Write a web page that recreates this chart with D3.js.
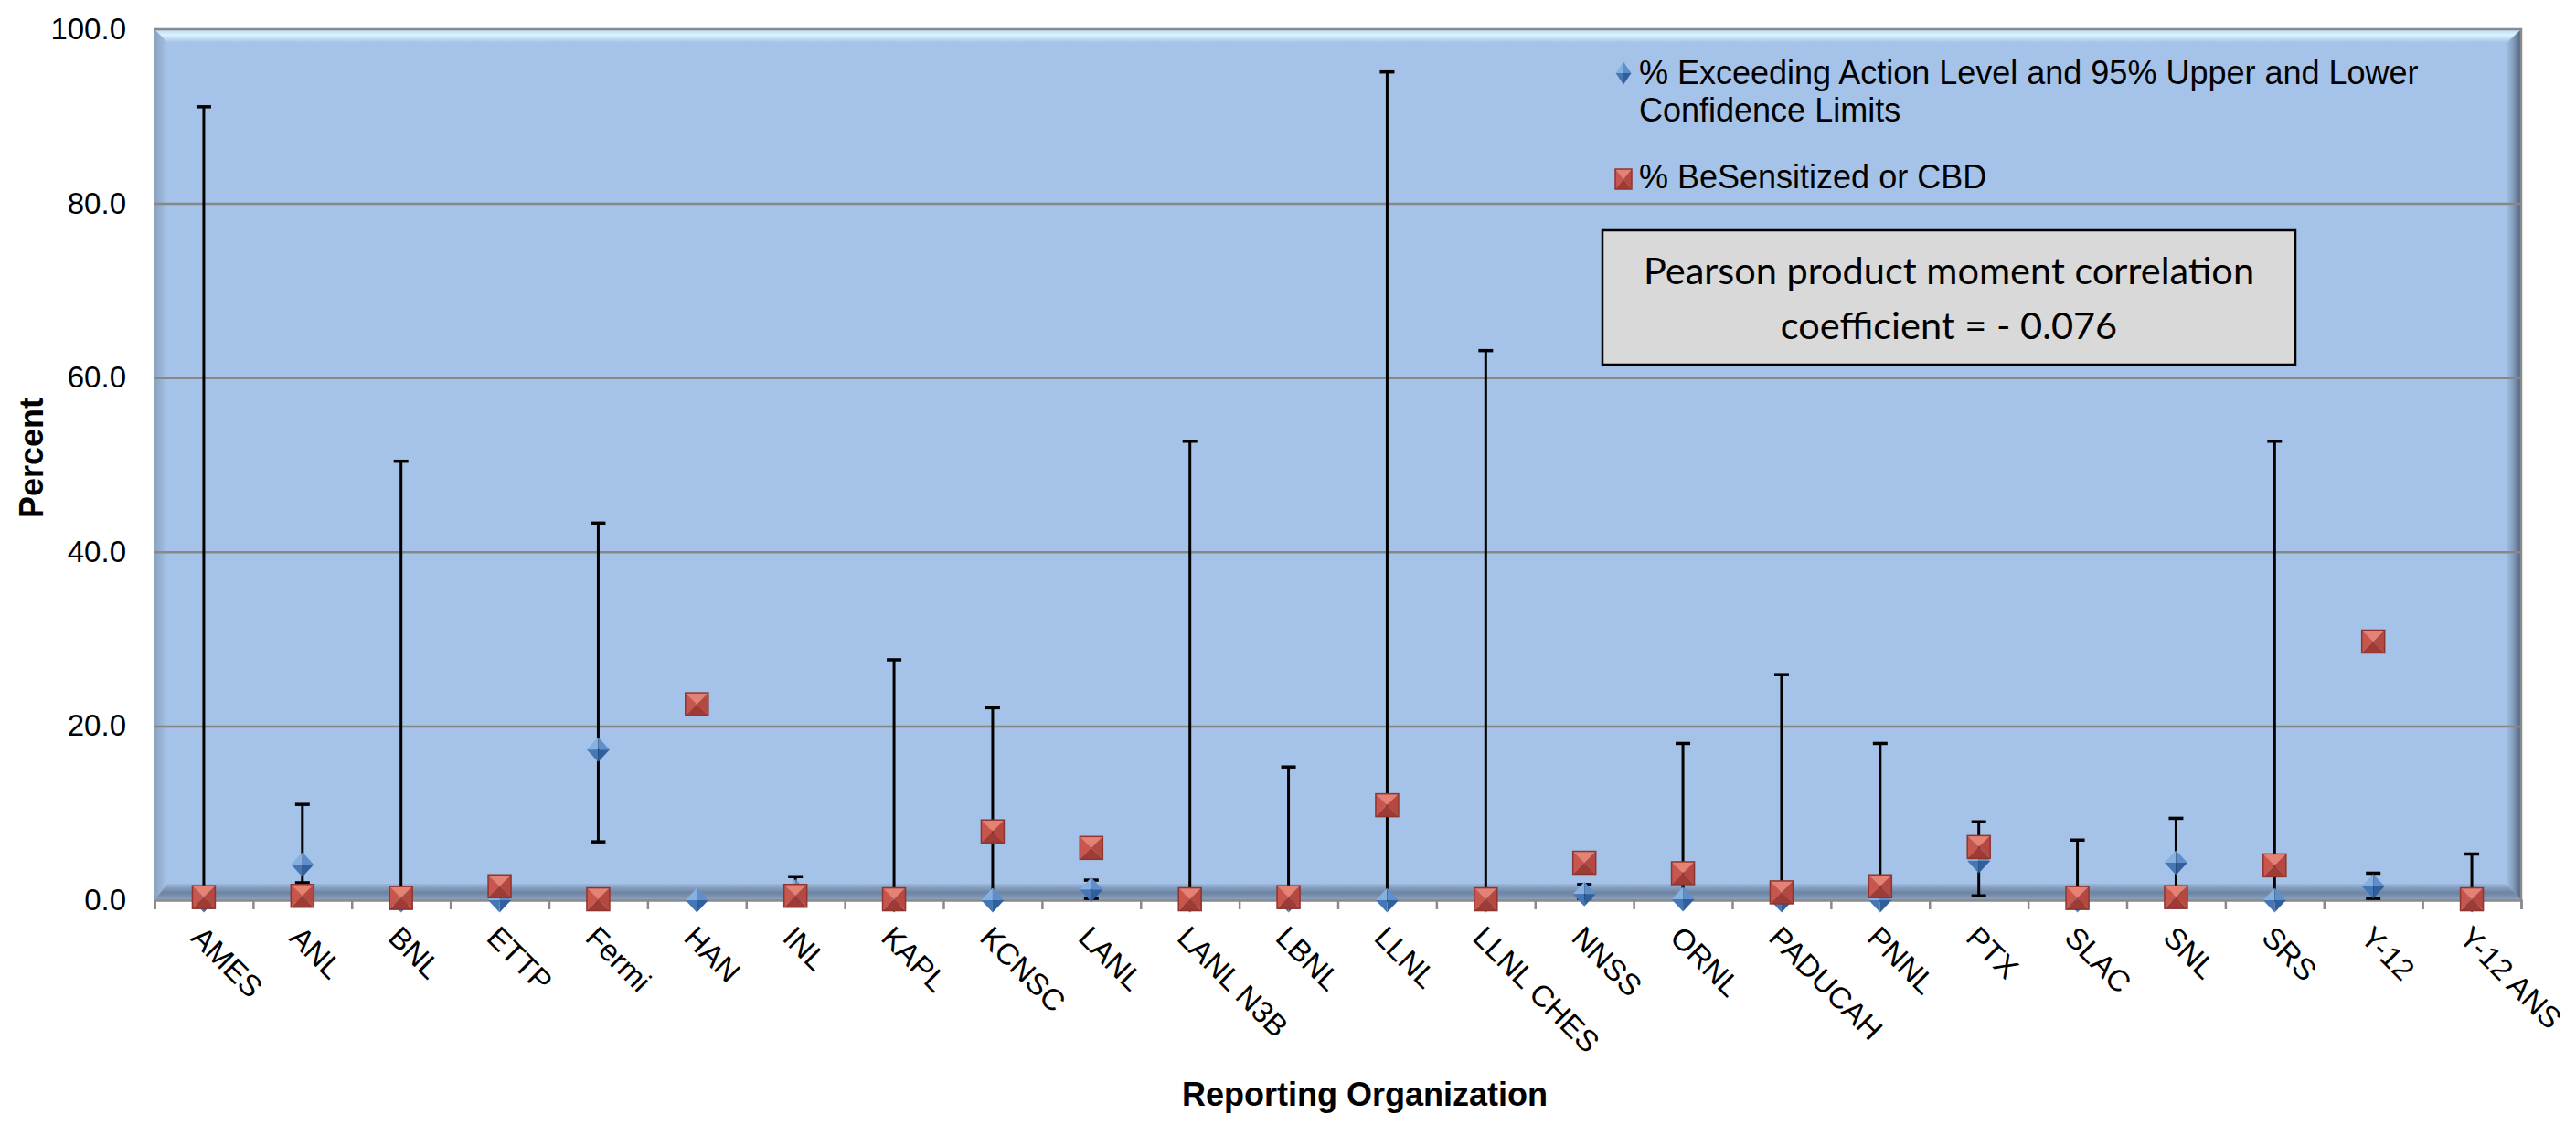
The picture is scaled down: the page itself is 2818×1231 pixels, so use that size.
<!DOCTYPE html>
<html>
<head>
<meta charset="utf-8">
<script src="https://cdn.jsdelivr.net/npm/d3@7"></script>
<style>
  body { margin: 0; background: #ffffff; }
  text { font-family: "Liberation Sans", Arial, sans-serif; fill: #000; }
</style>
</head>
<body>
<div class="chart"></div>
<script>
const categories = ['AMES', 'ANL', 'BNL', 'ETTP', 'Fermi', 'HAN', 'INL', 'KAPL', 'KCNSC', 'LANL',
  'LANL N3B', 'LBNL', 'LLNL', 'LLNL CHES', 'NNSS', 'ORNL', 'PADUCAH', 'PNNL', 'PTX', 'SLAC',
  'SNL', 'SRS', 'Y-12', 'Y-12 ANS'];

// % exceeding action level (diamonds) with 95% confidence limits
const exceedPct = [0, 4.1, 0, 0, 17.3, 0, 1.0, 0, 0, 1.2, 0, 0, 0, 0, 0.7, 0.1, 0, 0, 4.5, 0, 4.3, 0, 1.6, 0];
const upperCL = [91.1, 11.0, 50.4, 0, 43.3, 0, 2.7, 27.6, 22.1, 2.3, 52.7, 15.3, 95.1, 63.1, 1.8, 18.0, 25.9, 18.0, 9.0, 6.9, 9.4, 52.7, 3.1, 5.3];
const lowerCL = [0, 2.0, 0, 0, 6.7, 0, 0.3, 0, 0, 0.2, 0, 0, 0, 0, 0.2, 0, 0, 0, 0.5, 0, 0.9, 0, 0.2, 0];

// % BeSensitized or CBD (squares)
const sensitizedPct = [0.35, 0.5, 0.25, 1.6, 0.1, 22.5, 0.5, 0.1, 7.9, 6.0, 0.1, 0.35, 10.9, 0.1, 4.3, 3.1, 0.9, 1.6, 6.1, 0.25, 0.35, 4.0, 29.7, 0.1];

const yTicks = [0, 20, 40, 60, 80, 100];
const legendLabels = ['% Exceeding Action Level and 95% Upper and Lower', 'Confidence Limits', '% BeSensitized or CBD'];
const noteLines = ['Pearson product moment correlation', 'coefficient = - 0.076'];

const dims = { width: 2818, height: 1231 };
const plot = { left: 169, right: 2758, top: 32, bottom: 985 };
const bevel = 14;

const rows = categories.map((name, i) => ({
  name,
  exceed: exceedPct[i],
  upper: upperCL[i],
  lower: lowerCL[i],
  sens: sensitizedPct[i]
}));

const svg = d3.select('.chart')
  .append('svg')
  .attr('width', dims.width)
  .attr('height', dims.height);

const x = d3.scaleBand()
  .domain(categories)
  .range([plot.left, plot.right]);

const xEdge = d3.scaleLinear()
  .domain([0, categories.length])
  .range([plot.left, plot.right]);

const y = d3.scaleLinear()
  .domain([0, 100])
  .range([plot.bottom, plot.top]);

// gradients for the bevelled wall
const defs = svg.append('defs');
function grad(id, x2, y2, stops) {
  const g = defs.append('linearGradient').attr('id', id)
    .attr('x1', 0).attr('y1', 0).attr('x2', x2).attr('y2', y2);
  stops.forEach(s => g.append('stop').attr('offset', s[0]).attr('stop-color', s[1]));
}
grad('gTop', 0, 1, [[0, '#b9d8f2'], [0.45, '#dcf3ff'], [1, '#a8c7ea']]);
grad('gLeft', 1, 0, [[0, '#8ba2c0'], [1, '#a5c3e8']]);
grad('gRight', 1, 0, [[0, '#a2c0e4'], [0.5, '#7f98b8'], [1, '#4f6078']]);
grad('gFloor', 0, 1, [[0, '#9bb7da'], [0.55, '#6c83a2'], [1, '#8fa3bd']]);

const line = d3.line();
const wall = svg.append('g');
wall.append('rect')
  .attr('x', plot.left).attr('y', plot.top)
  .attr('width', plot.right - plot.left).attr('height', plot.bottom - plot.top)
  .attr('fill', '#a5c3e8');

const L = plot.left, R = plot.right, T = plot.top, B = plot.bottom;
wall.append('path').attr('fill', 'url(#gLeft)')
  .attr('d', line([[L, T], [L + bevel, T + bevel], [L + bevel, B - 18], [L, B]]) + 'Z');
wall.append('path').attr('fill', 'url(#gRight)')
  .attr('d', line([[R, T], [R - 16, T + 16], [R - 16, B - 18], [R, B]]) + 'Z');
wall.append('path').attr('fill', 'url(#gTop)')
  .attr('d', line([[L, T], [R, T], [R - 16, T + bevel], [L + bevel, T + bevel]]) + 'Z');
wall.append('path').attr('fill', 'url(#gFloor)')
  .attr('d', line([[L, B], [L + bevel, B - 18], [R - 16, B - 18], [R, B]]) + 'Z');

// gridlines
svg.append('g')
  .attr('transform', `translate(${plot.left}, 0)`)
  .call(d3.axisLeft(y).tickValues(yTicks.filter(d => d > 0 && d < 100))
    .tickSize(-(plot.right - plot.left)).tickFormat(''))
  .call(g => g.select('.domain').remove())
  .call(g => g.selectAll('line').attr('stroke', '#878787').attr('stroke-width', 2.5));

// outline on top and right
svg.append('path')
  .attr('d', line([[L, T], [R, T], [R, B]]))
  .attr('fill', 'none').attr('stroke', '#8a8a8a').attr('stroke-width', 2.5);

// y tick labels
svg.append('g')
  .attr('transform', `translate(${plot.left}, 0)`)
  .call(d3.axisLeft(y).tickValues(yTicks).tickFormat(d3.format('.1f')).tickSize(0).tickPadding(31))
  .call(g => g.select('.domain').remove())
  .call(g => g.selectAll('text')
    .style('font-family', '"Liberation Sans", Arial, sans-serif')
    .attr('font-size', 33).attr('fill', '#000'));

// x axis line and ticks at category edges
svg.append('g')
  .attr('transform', `translate(0, ${plot.bottom})`)
  .call(d3.axisBottom(xEdge).tickValues(d3.range(categories.length + 1)).tickFormat('').tickSize(10))
  .call(g => g.select('.domain').attr('stroke', '#8a8a8a').attr('stroke-width', 2.5))
  .call(g => g.selectAll('line').attr('stroke', '#8a8a8a').attr('stroke-width', 2.5));

// category labels, rotated 45 degrees
svg.append('g')
  .selectAll('text')
  .data(categories)
  .enter()
  .append('text')
  .attr('transform', d => `translate(${x(d) + x.bandwidth() / 2 + 1}, 1011) rotate(45)`)
  .attr('dy', '0.72em')
  .attr('font-size', 33)
  .text(d => d);

// axis titles
svg.append('text')
  .attr('x', 1493).attr('y', 1210)
  .attr('text-anchor', 'middle')
  .attr('font-size', 36).attr('font-weight', 'bold')
  .text('Reporting Organization');

svg.append('text')
  .attr('transform', 'translate(47, 501) rotate(-90)')
  .attr('text-anchor', 'middle')
  .attr('font-size', 36).attr('font-weight', 'bold')
  .text('Percent');

// marker shapes drawn as shaded facets
function diamond(g, w, h) {
  const facets = [
    [[[0, -h / 2], [-w / 2, 0], [0, 0]], '#86b0e0'],
    [[[0, -h / 2], [w / 2, 0], [0, 0]], '#5e8fcb'],
    [[[-w / 2, 0], [0, h / 2], [0, 0]], '#4677b5'],
    [[[w / 2, 0], [0, h / 2], [0, 0]], '#30609b']
  ];
  facets.forEach(f => g.append('path').attr('d', line(f[0]) + 'Z').attr('fill', f[1]));
}
function square(g, w, h) {
  const a = w / 2, b = h / 2;
  const facets = [
    [[[-a, -b], [a, -b], [0, 0]], '#e58273'],
    [[[-a, -b], [-a, b], [0, 0]], '#c9564d'],
    [[[a, -b], [a, b], [0, 0]], '#b54841'],
    [[[-a, b], [a, b], [0, 0]], '#9e3b35']
  ];
  facets.forEach(f => g.append('path').attr('d', line(f[0]) + 'Z').attr('fill', f[1]));
  g.append('rect').attr('x', -a).attr('y', -b).attr('width', w).attr('height', h)
    .attr('fill', 'none').attr('stroke', '#8e3530').attr('stroke-width', 1.5);
}

const cx = d => x(d.name) + x.bandwidth() / 2;

// error bars
const bars = svg.append('g')
  .selectAll('g')
  .data(rows.filter(d => d.upper > d.exceed))
  .enter()
  .append('g');

bars.append('line')
  .attr('x1', cx).attr('x2', cx)
  .attr('y1', d => y(d.lower)).attr('y2', d => y(d.upper))
  .attr('stroke', '#000').attr('stroke-width', 3);
bars.append('line')
  .attr('x1', d => cx(d) - 8).attr('x2', d => cx(d) + 8)
  .attr('y1', d => y(d.upper)).attr('y2', d => y(d.upper))
  .attr('stroke', '#000').attr('stroke-width', 3.5);
bars.append('line')
  .attr('x1', d => cx(d) - 8).attr('x2', d => cx(d) + 8)
  .attr('y1', d => y(d.lower)).attr('y2', d => y(d.lower))
  .attr('stroke', '#000').attr('stroke-width', 3.5);

// diamonds
svg.append('g')
  .selectAll('g')
  .data(rows)
  .enter()
  .append('g')
  .attr('transform', d => `translate(${cx(d)}, ${y(d.exceed)})`)
  .each(function () { diamond(d3.select(this), 25, 27); });

// squares
svg.append('g')
  .selectAll('g')
  .data(rows)
  .enter()
  .append('g')
  .attr('transform', d => `translate(${cx(d)}, ${y(d.sens)})`)
  .each(function () { square(d3.select(this), 25, 25); });

// legend
const legend = svg.append('g');
diamond(legend.append('g').attr('transform', 'translate(1776, 80)'), 17, 25);
square(legend.append('g').attr('transform', 'translate(1776, 196)'), 18, 22);
legend.selectAll('text')
  .data(legendLabels)
  .enter()
  .append('text')
  .attr('x', 1793)
  .attr('y', (d, i) => [92, 133, 206][i])
  .attr('font-size', 36)
  .text(d => d);

// correlation note
const note = svg.append('g');
note.append('rect')
  .attr('x', 1753).attr('y', 252).attr('width', 758).attr('height', 147)
  .attr('fill', '#d9d9d9').attr('stroke', '#000').attr('stroke-width', 2.5);
note.selectAll('text')
  .data(noteLines)
  .enter()
  .append('text')
  .attr('x', 2132)
  .attr('y', (d, i) => 311 + i * 60)
  .attr('text-anchor', 'middle')
  .style('font-family', 'Lato, "Open Sans", sans-serif')
  .attr('font-size', 41.5)
  .text(d => d);
</script>
</body>
</html>
